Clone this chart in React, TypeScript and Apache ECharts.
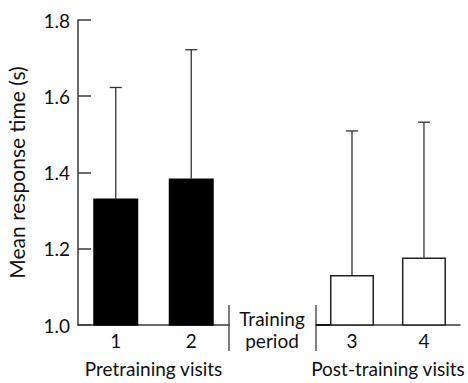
import React, { useEffect, useRef } from "react";
import * as echarts from "echarts";

const preCategories = ["1", "2"];
const preMeans = [1.332, 1.384];
const preUpper = [1.623, 1.722];

const postCategories = ["3", "4"];
const postMeans = [1.131, 1.177];
const postUpper = [1.509, 1.532];

const yTicks = [1.0, 1.2, 1.4, 1.6, 1.8];

const FONT = "Lato";
const FS = 19;
const AXIS_COLOR = "#3a3a3a";

function errorSeries(axisIndex: number, means: number[], upper: number[]) {
  return {
    type: "custom",
    xAxisIndex: axisIndex,
    yAxisIndex: axisIndex,
    z: 1,
    data: means.map((m, i) => [i, m, upper[i]]),
    renderItem: (params: any, api: any) => {
      const x = api.value(0);
      const low = api.coord([x, api.value(1)]);
      const high = api.coord([x, api.value(2)]);
      const half = 6;
      const style = { stroke: "#333", lineWidth: 1.3 };
      return {
        type: "group",
        children: [
          { type: "line", shape: { x1: low[0], y1: low[1], x2: high[0], y2: high[1] }, style },
          { type: "line", shape: { x1: high[0] - half, y1: high[1], x2: high[0] + half, y2: high[1] }, style },
        ],
      };
    },
  };
}

export default function App() {
  const ref = useRef<HTMLDivElement>(null);
  useEffect(() => {
    if (!ref.current) return;
    const chart = echarts.init(ref.current, null, { renderer: "svg" });
    const textStyle = { fontFamily: FONT, fontSize: FS, color: "#111" };
    const yAxisBase = {
      type: "value",
      min: 1.0,
      max: 1.8,
      interval: 0.2,
      splitLine: { show: false },
    };
    chart.setOption({
      animation: false,
      backgroundColor: "#fff",
      textStyle: { fontFamily: FONT },
      grid: [
        { left: 78, width: 151, top: 20, height: 308 },
        { left: 316, width: 150, top: 20, height: 308 },
      ],
      xAxis: [
        {
          type: "category",
          gridIndex: 0,
          data: preCategories,
          axisLine: { lineStyle: { color: AXIS_COLOR, width: 1.5 } },
          axisTick: { show: false },
          axisLabel: { ...textStyle, margin: 6 },
          name: "Pretraining visits",
          nameLocation: "middle",
          nameGap: 34,
          nameTextStyle: textStyle,
        },
        {
          type: "category",
          gridIndex: 1,
          data: postCategories,
          axisLine: { lineStyle: { color: AXIS_COLOR, width: 1.5 } },
          axisTick: { show: false },
          axisLabel: { ...textStyle, margin: 6 },
          name: "Post-training visits",
          nameLocation: "middle",
          nameGap: 34,
          nameTextStyle: textStyle,
        },
      ],
      yAxis: [
        {
          ...yAxisBase,
          gridIndex: 0,
          axisLine: { show: true, lineStyle: { color: AXIS_COLOR, width: 1.5 } },
          axisTick: { show: true, inside: true, length: 13, lineStyle: { color: AXIS_COLOR, width: 1.5 } },
          axisLabel: {
            ...textStyle,
            margin: 8,
            formatter: (v: number) => (yTicks.some((t) => Math.abs(t - v) < 1e-6) ? v.toFixed(1) : ""),
          },
          name: "Mean response time (s)",
          nameLocation: "middle",
          nameGap: 51,
          nameTextStyle: { ...textStyle, fontSize: 21 },
        },
        {
          ...yAxisBase,
          gridIndex: 1,
          axisLine: { show: false },
          axisTick: {
            show: true,
            inside: true,
            length: 14,
            customValues: [1.0],
            lineStyle: { color: "#111", width: 2 },
          },
          axisLabel: { show: false },
        },
      ],
      series: [
        {
          type: "bar",
          xAxisIndex: 0,
          yAxisIndex: 0,
          data: preMeans,
          barWidth: 45,
          z: 2,
          itemStyle: { color: "#000", borderColor: "#000", borderWidth: 1.5 },
        },
        errorSeries(0, preMeans, preUpper),
        {
          type: "bar",
          xAxisIndex: 1,
          yAxisIndex: 1,
          data: postMeans,
          barWidth: 44,
          z: 2,
          itemStyle: { color: "#fff", borderColor: "#222", borderWidth: 1.5 },
        },
        errorSeries(1, postMeans, postUpper),
      ],
      graphic: [
        { type: "line", shape: { x1: 229, y1: 305, x2: 229, y2: 351 }, style: { stroke: AXIS_COLOR, lineWidth: 1.3 } },
        { type: "line", shape: { x1: 316, y1: 305, x2: 316, y2: 351 }, style: { stroke: AXIS_COLOR, lineWidth: 1.3 } },
        {
          type: "text",
          x: 272,
          y: 318,
          style: { text: "Training", font: `${FS}px ${FONT}`, fill: "#111", align: "center", verticalAlign: "middle" },
        },
        {
          type: "text",
          x: 272,
          y: 340,
          style: { text: "period", font: `${FS}px ${FONT}`, fill: "#111", align: "center", verticalAlign: "middle" },
        },
      ],
    });
    return () => chart.dispose();
  }, []);
  return <div ref={ref} style={{ position: "fixed", left: 0, top: 0, width: 468, height: 383 }} />;
}
